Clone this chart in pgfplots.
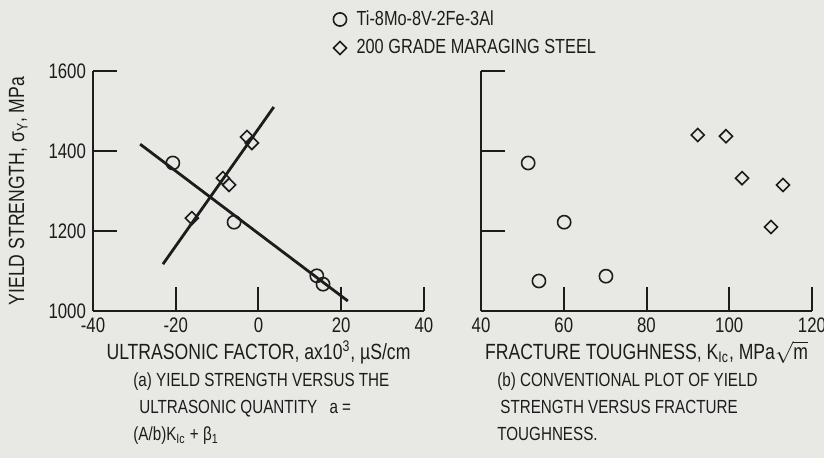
\documentclass[border=0pt]{standalone}
\usepackage{pgfplots}
\pgfplotsset{compat=1.18}
\usepackage{fontspec}
\setmainfont{Liberation Sans}[FakeStretch=0.8]
\definecolor{bg}{RGB}{232,232,229}
\definecolor{ink}{RGB}{28,28,28}

\pgfplotstableread{
x y
-20.7 1370
-5.9 1222
14.1 1088
15.6 1067
}\tiA
\pgfplotstableread{
x y
-2.8 1435
-1.6 1420
-8.6 1332
-7.1 1315
-16.1 1232
}\stA
\pgfplotstableread{
x y
51.4 1370
60.1 1222
54.0 1075
70.2 1087
}\tiB
\pgfplotstableread{
x y
92.4 1440
99.2 1437
103.1 1332
113.0 1315
110.1 1210
}\stB

\pgfplotsset{
 panel/.style={
  scale only axis, width=165.5pt, height=120pt,
  axis lines*=left,
  axis line style={ink, line width=1.1pt},
  tick align=inside, major tick length=12pt,
  major tick style={ink, line width=1pt},
  ymin=1000, ymax=1600, ytick={1000,1200,1400,1600},
  /pgf/number format/assume math mode=true,
  /pgf/number format/1000 sep={},
  tick label style={font=\fontsize{10.5}{12}\selectfont, text=ink},
  label style={font=\fontsize{11}{13}\selectfont, text=ink},
  xlabel style={yshift=3pt},
  clip=false,
 },
 ti/.style={only marks, mark=o, mark size=3.3pt, mark options={ink, line width=0.8pt}},
 st/.style={only marks, mark=square, mark size=2.3pt, mark options={ink, line width=0.8pt, rotate=45}},
}

\begin{document}
\begin{tikzpicture}
\fill[bg] (0pt,0pt) rectangle (412pt,229pt);
\useasboundingbox (0pt,0pt) rectangle (412pt,229pt);

\begin{axis}[panel,
  at={(46.5pt,73.5pt)}, anchor=south west,
  xmin=-40, xmax=40, xtick={-40,-20,0,20,40},
  xlabel={ULTRASONIC FACTOR, ax10\textsuperscript{3}, µS/cm},
  ylabel={YIELD STRENGTH, σ\textsubscript{Y}, MPa},
  ylabel style={at={(axis description cs:-0.226,0.5)}, anchor=center},
  legend style={at={(axis description cs:0.725,1.27)}, anchor=north west,
    draw=none, fill=none, font=\fontsize{10.2}{12}\selectfont, text=ink,
    row sep=1.5pt, inner sep=0pt, nodes={inner xsep=5pt}},
  legend cell align=left,
]
\addplot[ti] table {\tiA};
\addlegendentry{Ti-8Mo-8V-2Fe-3Al}
\addplot[st] table {\stA};
\addlegendentry{200 GRADE MARAGING STEEL}
\addplot[ink, line width=1.4pt, forget plot] coordinates {(-28.6,1417) (21.6,1025)};
\addplot[ink, line width=1.4pt, forget plot] coordinates {(-23.1,1117) (3.7,1510)};
\end{axis}

\begin{axis}[panel,
  at={(240.5pt,73.5pt)}, anchor=south west,
  xmin=40, xmax=120, xtick={40,60,80,100,120},
  yticklabels={},
  xlabel={FRACTURE TOUGHNESS, K\textsubscript{Ic}, MPa$\sqrt{\mbox{m}}$},
]
\addplot[ti] table {\tiB};
\addplot[st] table {\stB};
\end{axis}

\node[anchor=north west, align=left, text=ink, font=\fontsize{9.5}{13.7}\selectfont, inner sep=0pt]
  at (66.5pt,43pt) {(a) YIELD STRENGTH VERSUS THE\\
  \hspace*{3pt}ULTRASONIC QUANTITY\hspace{4pt} a =\\
  (A/b)K\textsubscript{Ic} + β\textsubscript{1}};
\node[anchor=north west, align=left, text=ink, font=\fontsize{9.5}{13.7}\selectfont, inner sep=0pt]
  at (248.5pt,43pt) {(b) CONVENTIONAL PLOT OF YIELD\\
  \hspace*{1.5pt}STRENGTH VERSUS FRACTURE\\
  TOUGHNESS.};
\end{tikzpicture}
\end{document}
